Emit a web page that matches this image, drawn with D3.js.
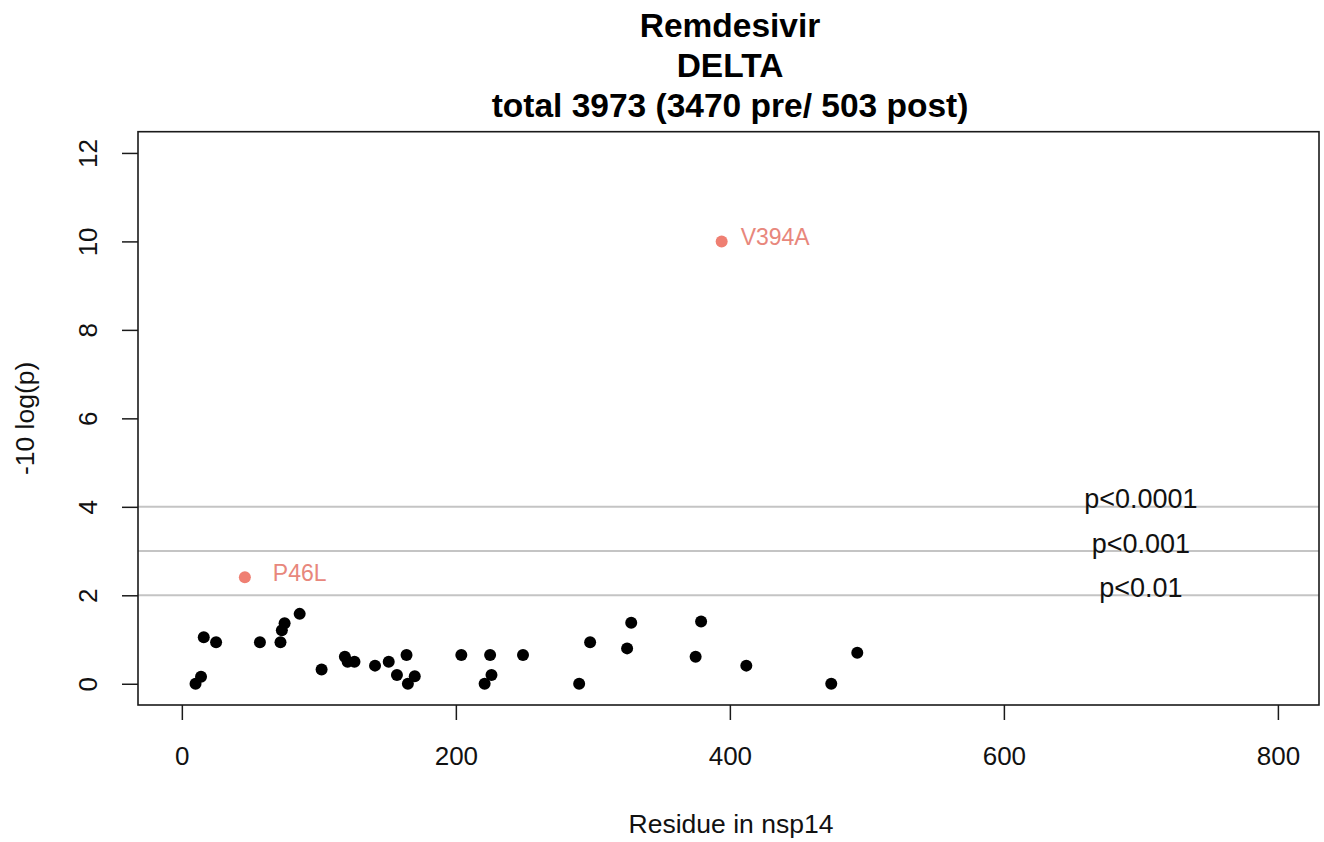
<!DOCTYPE html>
<html>
<head>
<meta charset="utf-8">
<script src="https://cdn.jsdelivr.net/npm/d3@7"></script>
<style>
  html, body { margin: 0; padding: 0; background: #fff; }
  svg { display: block; font-family: "Liberation Sans", Arial, sans-serif; }
</style>
</head>
<body>
<svg id="chart" width="1324" height="842"></svg>
<script>
// ---- data ----
const titleLines = ["Remdesivir", "DELTA", "total 3973 (3470 pre/ 503 post)"];
const residues = [10, 14, 16, 25, 57, 72, 73, 75, 86, 102, 119, 121, 126, 141, 151, 157, 164, 165, 170, 204, 221, 225, 226, 249, 290, 298, 325, 328, 375, 379, 412, 474, 493];
const scores   = [0, 0.16, 1.05, 0.94, 0.94, 0.94, 1.21, 1.37, 1.58, 0.32, 0.61, 0.5, 0.5, 0.41, 0.5, 0.2, 0.65, 0, 0.17, 0.65, 0, 0.65, 0.2, 0.65, 0, 0.94, 0.8, 1.38, 0.61, 1.41, 0.41, 0, 0.7];
const hitResidues = [394, 46];
const hitScores   = [10, 2.41];
const hitLabels   = ["V394A", "P46L"];
const thresholdValues = [4, 3, 2];
const thresholdLabels = ["p<0.0001", "p<0.001", "p<0.01"];
const thresholdLabelX = 700;
const xTicks = [0, 200, 400, 600, 800];
const yTicks = [0, 2, 4, 6, 8, 10, 12];
const xLabel = "Residue in nsp14";
const yLabel = "-10 log(p)";

// ---- layout / style ----
const svg = d3.select("#chart");
const box = { left: 138, right: 1319, top: 131.7, bottom: 705 };
const x = d3.scaleLinear().domain([-32, 830]).range([box.left, box.right]);
const y = d3.scaleLinear().domain([-0.48, 12.48]).range([box.bottom, box.top]);
const hitColor = "#ef7f72";
const hitTextColor = "#e8877c";
const labelDx = [19, 28];
const dotR = 6;

// title
svg.append("g").selectAll("text").data(titleLines).join("text")
  .attr("x", 730).attr("y", (d, i) => 37 + i * 40)
  .attr("text-anchor", "middle")
  .attr("font-size", 33.5).attr("font-weight", "bold").attr("fill", "#000")
  .text(d => d);

// threshold lines
svg.append("g").selectAll("line").data(thresholdValues).join("line")
  .attr("x1", box.left).attr("x2", box.right)
  .attr("y1", d => y(d)).attr("y2", d => y(d))
  .attr("stroke", "#c4c4c4").attr("stroke-width", 2);

svg.append("g").selectAll("text").data(thresholdValues).join("text")
  .attr("x", x(thresholdLabelX)).attr("y", d => y(d) + 1.5)
  .attr("text-anchor", "middle").attr("font-size", 27).attr("fill", "#111")
  .text((d, i) => thresholdLabels[i]);

// black points
svg.append("g").selectAll("circle").data(residues).join("circle")
  .attr("cx", d => x(d)).attr("cy", (d, i) => y(scores[i]))
  .attr("r", dotR).attr("fill", "#000");

// highlighted points
const hits = svg.append("g");
hits.selectAll("circle").data(hitResidues).join("circle")
  .attr("cx", d => x(d)).attr("cy", (d, i) => y(hitScores[i]))
  .attr("r", dotR).attr("fill", hitColor);
hits.selectAll("text").data(hitResidues).join("text")
  .attr("x", (d, i) => x(d) + labelDx[i]).attr("y", (d, i) => y(hitScores[i]) + 4)
  .attr("font-size", 23).attr("fill", hitTextColor)
  .text((d, i) => hitLabels[i]);

// box
svg.append("rect")
  .attr("x", box.left).attr("y", box.top)
  .attr("width", box.right - box.left).attr("height", box.bottom - box.top)
  .attr("fill", "none").attr("stroke", "#1a1a1a").attr("stroke-width", 1.6);

// x axis
const xAxis = d3.axisBottom(x).tickValues(xTicks).tickSize(15).tickPadding(0).tickFormat(d3.format("d"));
const gx = svg.append("g").attr("transform", `translate(0,${box.bottom})`).call(xAxis);
gx.select(".domain").remove();
gx.selectAll(".tick line").attr("stroke", "#1a1a1a").attr("stroke-width", 1.5);
gx.selectAll(".tick text").attr("font-size", 26).attr("fill", "#111")
  .attr("font-family", "Liberation Sans, Arial, sans-serif")
  .attr("dy", null).attr("y", 59.5);

// y axis
const yAxis = d3.axisLeft(y).tickValues(yTicks).tickSize(16).tickPadding(0).tickFormat(d3.format("d"));
const gy = svg.append("g").attr("transform", `translate(${box.left},0)`).call(yAxis);
gy.select(".domain").remove();
gy.selectAll(".tick line").attr("stroke", "#1a1a1a").attr("stroke-width", 1.5);
gy.selectAll(".tick text").attr("font-size", 26).attr("fill", "#111")
  .attr("font-family", "Liberation Sans, Arial, sans-serif")
  .attr("x", null).attr("dy", null).attr("text-anchor", "middle")
  .attr("transform", "translate(-41,0) rotate(-90)");

// axis titles
svg.append("text")
  .attr("x", 731).attr("y", 833)
  .attr("text-anchor", "middle").attr("font-size", 26.5).attr("fill", "#111")
  .text(xLabel);
svg.append("text")
  .attr("transform", `translate(34,${(box.top + box.bottom) / 2}) rotate(-90)`)
  .attr("text-anchor", "middle").attr("font-size", 26.5).attr("fill", "#111")
  .text(yLabel);
</script>
</body>
</html>
